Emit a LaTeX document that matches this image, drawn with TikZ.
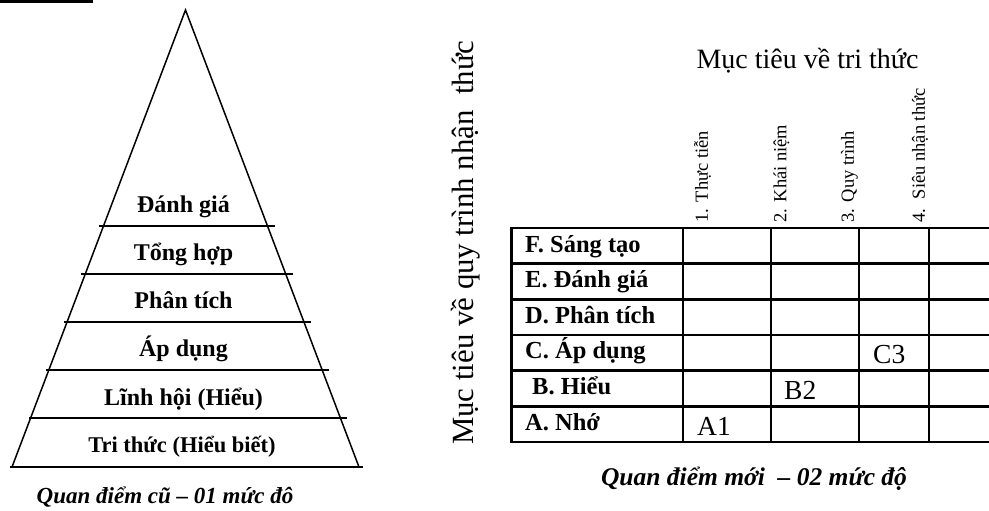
\documentclass[tikz,border=0pt]{standalone}
\usepackage{fontspec}
\setmainfont{Liberation Serif}
\begin{document}
\begin{tikzpicture}[x=1pt,y=-1pt,
  pyr/.style={line width=1.5pt},
  gridline/.style={line width=2.5pt},
  plab/.style={font=\fontsize{24}{28}\selectfont\bfseries, anchor=base, inner sep=0pt},
  rlab/.style={font=\fontsize{24.5}{28}\selectfont\bfseries, anchor=base west, inner sep=0pt},
  cell/.style={font=\fontsize{27.5}{30}\selectfont, anchor=base west, inner sep=0pt},
  chead/.style={font=\fontsize{18.5}{20}\selectfont, rotate=90, anchor=west, inner sep=0pt},
  axis/.style={font=\fontsize{28}{32}\selectfont, inner sep=0pt},
  capt/.style={font=\fontsize{23}{28}\selectfont\bfseries\itshape, anchor=base, inner sep=0pt}]
\useasboundingbox (0,0) rectangle (989,511);
% cut-off title bar
\fill (0,0) rectangle (93,3.3);
% pyramid
\coordinate (apex) at (185.5,10);
\coordinate (bl) at (12,467);
\coordinate (br) at (359,467);
\draw[pyr] (bl) -- (apex) -- (br);
\draw[pyr] (99,226) -- (275,226);
\draw[pyr] (81,274) -- (293,274);
\draw[pyr] (64,322) -- (311,322);
\draw[pyr] (46,370) -- (329,370);
\draw[pyr] (29,418) -- (347,418);
\draw[pyr] (10,467) -- (363,467);
\node[plab] (p1) at (183.5,212) {Đánh giá};
\node[plab] (p2) at (183.5,260) {Tổng hợp};
\node[plab] (p3) at (183.5,308) {Phân tích};
\node[plab] (p4) at (183.5,356) {Áp dụng};
\node[plab] (p5) at (183.5,405) {Lĩnh hội (Hiểu)};
\node[plab, font=\fontsize{22.5}{28}\selectfont\bfseries] (p6) at (182,452) {Tri thức (Hiểu biết)};
\node[capt] (c1) at (165,503) {Quan điểm cũ – 01 mức đô};
% table
\foreach \yy in {228,263.7,299.3,335,370.7,406.3,442}{
  \draw[gridline] (511.7,\yy) -- (989,\yy);
}
\foreach \xx in {511.7,683,771,859,929}{
  \draw[gridline] (\xx,227) -- (\xx,443.2);
}
\node[rlab] (rF) at (525,252) {F. Sáng tạo};
\node[rlab] (rE) at (525,287.5) {E. Đánh giá};
\node[rlab] (rD) at (525,323) {D. Phân tích};
\node[rlab] (rC) at (525,358.7) {C. Áp dụng};
\node[rlab] (rB) at (532,394.3) {B. Hiểu};
\node[rlab] (rA) at (525,430) {A. Nhớ};
\node[cell] (a1) at (697,435) {A1};
\node[cell] (b2) at (784,399) {B2};
\node[cell] (c3) at (873,363.5) {C3};
% column heads
\node[chead] (h1) at (702.5,222.5) {1. Thực tiễn};
\node[chead] (h2) at (781.5,222.5) {2. Khái niệm};
\node[chead] (h3) at (849.5,222.5) {3. Quy trình};
\node[chead] (h4) at (920,222.5) {4.\ \ Siêu nhận thức};
% axis titles
\node[axis, anchor=base] (tx) at (807.5,69) {Mục tiêu về tri thức};
\node[axis, font=\fontsize{30.8}{34}\selectfont, rotate=90, anchor=base west] (ty) at (473,445) {Mục tiêu về quy trình nhận\ \ thức};
\node[capt, font=\fontsize{25.5}{28}\selectfont\bfseries\itshape] (c2) at (754,485) {Quan điểm mới\ \ – 02 mức độ};
\end{tikzpicture}
\end{document}
